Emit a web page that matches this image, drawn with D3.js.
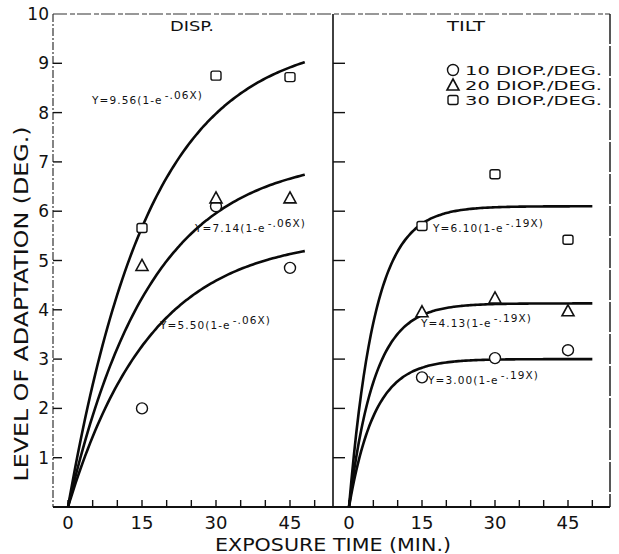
<!DOCTYPE html>
<html><head><meta charset="utf-8">
<script src="https://cdn.jsdelivr.net/npm/d3@7"></script>
<style>body{margin:0;background:#fff}svg{display:block}text{font-family:"DejaVu Sans",sans-serif;fill:#111}</style>
</head><body>
<script>
// ---- data ----
const panels = ["DISP.", "TILT"];
const exposureTimes = [15, 30, 45];
const seriesNames = ["10 DIOP./DEG.", "20 DIOP./DEG.", "30 DIOP./DEG."];
const seriesSymbols = ["circle", "triangle", "square"];
// DISP panel observed values (10, 20, 30 diop/deg)
const dispCircle = [2.0, 6.1, 4.85];
const dispTriangle = [4.9, 6.27, 6.27];
const dispSquare = [5.66, 8.75, 8.72];
// TILT panel observed values
const tiltCircle = [2.63, 3.02, 3.18];
const tiltTriangle = [3.96, 4.24, 3.98];
const tiltSquare = [5.7, 6.75, 5.42];
// fitted curve parameters Y = A(1 - e^(-kX)), as printed on the chart
const dispAmp = [5.50, 7.14, 9.56];
const dispRate = [0.06, 0.06, 0.06];
const tiltAmp = [3.00, 4.13, 6.10];
const tiltRate = [0.19, 0.19, 0.19];
const dispLabels = ["Y=5.50(1-e", "Y=7.14(1-e", "Y=9.56(1-e"];
const dispExp = ["-.06X)", "-.06X)", "-.06X)"];
const tiltLabels = ["Y=3.00(1-e", "Y=4.13(1-e", "Y=6.10(1-e"];
const tiltExp = ["-.19X)", "-.19X)", "-.19X)"];
const yTicks = [1,2,3,4,5,6,7,8,9,10];
const xTickLabels = [0, 15, 30, 45];
const xMinorTicks = [0,5,10,15,20,25,30,35,40,45,50];
const curveEnd = [48, 50];

const W = 619, H = 554;
const svg = d3.select("body").append("svg").attr("width", W).attr("height", H);

const y = d3.scaleLinear().domain([0, 10]).range([507, 14]);
const xs = [
  d3.scaleLinear().domain([0, 45]).range([68, 290]),
  d3.scaleLinear().domain([0, 45]).range([349, 568])
];
const frameL = [53, 333];

// frame
svg.append("line").attr("x1",53).attr("x2",610).attr("y1",14).attr("y2",14)
  .attr("stroke","#333").attr("stroke-width",1.2).attr("stroke-dasharray","14,3,5,2");
svg.append("line").attr("x1",53).attr("x2",53).attr("y1",14).attr("y2",507)
  .attr("stroke","#333").attr("stroke-width",1.2).attr("stroke-dasharray","8,2,2,2");
svg.append("line").attr("x1",333).attr("x2",333).attr("y1",14).attr("y2",507)
  .attr("stroke","#111").attr("stroke-width",1.6);
svg.append("line").attr("x1",610).attr("x2",610).attr("y1",14).attr("y2",507)
  .attr("stroke","#111").attr("stroke-width",1.4).attr("stroke-dasharray","30,2");
svg.append("line").attr("x1",53).attr("x2",610).attr("y1",507).attr("y2",507)
  .attr("stroke","#111").attr("stroke-width",2);

// y ticks (inward)
panels.forEach((p,i)=>{
  svg.append("g").selectAll("line").data(yTicks.filter(d=>d<10)).join("line")
    .attr("x1", frameL[i]).attr("x2", frameL[i] + (i===0?9:12))
    .attr("y1", d=>y(d)).attr("y2", d=>y(d))
    .attr("stroke","#111").attr("stroke-width",1.4);
});
svg.append("g").selectAll("text").data(yTicks).join("text")
  .attr("x", 49).attr("y", d=>y(d)+6).attr("text-anchor","end")
  .attr("font-size",17).text(d=>d);

// x ticks
panels.forEach((p,i)=>{
  const x = xs[i];
  svg.append("g").selectAll("line").data(xMinorTicks).join("line")
    .attr("x1", d=>x(d)).attr("x2", d=>x(d)).attr("y1",507).attr("y2",500)
    .attr("stroke","#111").attr("stroke-width",1.4);
  svg.append("g").selectAll("text").data(xTickLabels).join("text")
    .attr("x", d=>x(d)).attr("y", 529).attr("text-anchor","middle")
    .attr("font-size",18).text(d=>d);
});

// axis titles
svg.append("text").attr("x", 333).attr("y", 551).attr("text-anchor","middle")
  .attr("font-size",17).attr("textLength",236).attr("lengthAdjust","spacingAndGlyphs")
  .text("EXPOSURE TIME (MIN.)");
svg.append("text").attr("transform","translate(28,304) rotate(-90)").attr("text-anchor","middle")
  .attr("font-size",19).attr("textLength",355).attr("lengthAdjust","spacingAndGlyphs")
  .text("LEVEL OF ADAPTATION (DEG.)");

// panel titles
svg.append("text").attr("x",170).attr("y",31).attr("font-size",14)
  .attr("textLength",44).attr("lengthAdjust","spacingAndGlyphs").text(panels[0]);
svg.append("text").attr("x",447).attr("y",31).attr("font-size",14)
  .attr("textLength",38).attr("lengthAdjust","spacingAndGlyphs").text(panels[1]);

// symbol drawing
function drawSymbol(g, type, cx, cy){
  if(type==="circle"){
    g.append("circle").attr("cx",cx).attr("cy",cy).attr("r",5.5)
      .attr("fill","#fff").attr("stroke","#111").attr("stroke-width",1.4);
  } else if(type==="triangle"){
    const s=12, h=10;
    g.append("path").attr("d",`M${cx},${cy-h/2-1}L${cx+s/2},${cy+h/2}L${cx-s/2},${cy+h/2}Z`)
      .attr("fill","#fff").attr("stroke","#111").attr("stroke-width",1.6);
  } else {
    g.append("rect").attr("x",cx-5).attr("y",cy-4.5).attr("width",10).attr("height",9).attr("rx",2)
      .attr("fill","#fff").attr("stroke","#111").attr("stroke-width",1.4);
  }
}

// curves
const amps = [dispAmp, tiltAmp], rates = [dispRate, tiltRate];
panels.forEach((p,i)=>{
  const x = xs[i];
  amps[i].forEach((A,j)=>{
    const k = rates[i][j];
    const pts = d3.range(0, curveEnd[i]+0.01, 0.5).map(t=>[t, A*(1-Math.exp(-k*t))]);
    svg.append("path").datum(pts)
      .attr("d", d3.line().x(d=>x(d[0])).y(d=>y(d[1])).curve(d3.curveBasis))
      .attr("fill","none").attr("stroke","#0a0a0a").attr("stroke-width",2.6);
  });
});

// points
const obs = [[dispCircle, dispTriangle, dispSquare],[tiltCircle, tiltTriangle, tiltSquare]];
panels.forEach((p,i)=>{
  const x = xs[i];
  const g = svg.append("g");
  obs[i].forEach((vals,j)=>{
    vals.forEach((v,t)=>drawSymbol(g, seriesSymbols[j], x(exposureTimes[t]), y(v)));
  });
});

// curve labels
function eqLabel(xp, yp, main, sup){
  const t = svg.append("text").attr("x",xp).attr("y",yp).attr("font-size",10.5)
    .attr("letter-spacing",1.1);
  t.append("tspan").text(main);
  t.append("tspan").attr("dy",-5).attr("dx",2).text(sup);
}
eqLabel(92, 104, dispLabels[2], dispExp[2]);
eqLabel(195, 232, dispLabels[1], dispExp[1]);
eqLabel(160, 329, dispLabels[0], dispExp[0]);
eqLabel(433, 232, tiltLabels[2], tiltExp[2]);
eqLabel(421, 327, tiltLabels[1], tiltExp[1]);
eqLabel(428, 384, tiltLabels[0], tiltExp[0]);

// legend
const lg = svg.append("g");
seriesNames.forEach((n,j)=>{
  const cy = 70 + j*15;
  drawSymbol(lg, seriesSymbols[j], 453, cy);
  lg.append("text").attr("x",465).attr("y",cy+5).attr("font-size",13)
    .attr("textLength",137).attr("lengthAdjust","spacingAndGlyphs").text(n);
});
</script>
</body></html>
